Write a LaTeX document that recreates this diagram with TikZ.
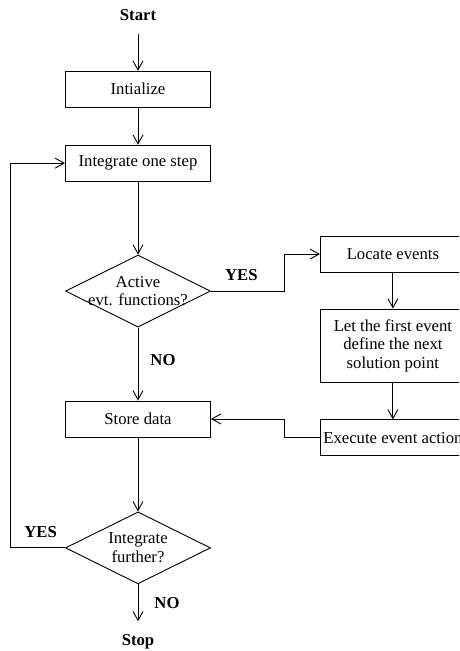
\documentclass[tikz,border=0pt]{standalone}
\usepackage{fontspec}
\setmainfont{Liberation Serif}
\usetikzlibrary{arrows.meta,positioning,shapes.geometric}
\newcommand{\figsize}{\fontsize{16.7}{18.5}\selectfont}
\tikzset{
  block/.style={draw, line width=0.9pt, minimum width=145pt, minimum height=36pt, align=center, inner sep=2pt},
  decision/.style={draw, diamond, line width=0.9pt, minimum width=145pt, minimum height=72pt, inner sep=0pt},
  term/.style={font=\figsize\bfseries, inner xsep=2pt, inner ysep=13pt},
  lbl/.style={font=\figsize\bfseries, inner sep=0pt},
  flow/.style={-{Straight Barb[length=9pt, width=10pt]}, line width=0.9pt}
}

\begin{document}
\begin{tikzpicture}[x=1pt, y=1pt, node distance=37pt, font=\figsize]
  \clip (0,0) rectangle (459,-651);

  % main column
  \node[term] (start) at (138,-15) {Start};
  \node[block, below=of start] (init) {Intialize};
  \node[block, below=of init] (integ) {Integrate one step};
  \node[decision, below=73pt of integ, label={[align=center]center:Active\\evt. functions?}] (act) {};
  \node[block, below=73pt of act] (store) {Store data};
  \node[decision, below=74pt of store, label={[align=center]center:Integrate\\further?}] (further) {};
  \node[term, below=of further] (stop) {Stop};

  % event branch
  \node[block, right=109pt of act, yshift=37pt] (locate) {Locate events};
  \node[block, below=36pt of locate, minimum height=73pt] (first) {Let the first event\\define the next\\solution point};
  \node[block, below=of first] (exec) {Execute event action};

  \draw[flow] (start) -- (init);
  \draw[flow] (init) -- (integ);
  \draw[flow] (integ) -- (act);
  \draw[flow] (act) -- node[lbl, pos=0.44, right=12pt] (no1) {NO} (store);
  \draw[flow] (act.east) -- ++(73,0) |- (locate);
  \draw[flow] (locate) -- (first);
  \draw[flow] (first) -- (exec);
  \draw[flow] (exec.west) -- ++(-36,0) |- (store);
  \draw[flow] (store) -- (further);
  \draw[flow] (further) -- node[lbl, right=16pt] (no2) {NO} (stop);
  \draw[flow] (further.west) -- ++(-55,0) |- (integ);

  \node[lbl, above right=10pt and 14pt of act.east] (yes1) {YES};
  \node[lbl, above left=10pt and 8pt of further.west] (yes2) {YES};
\end{tikzpicture}
\end{document}
